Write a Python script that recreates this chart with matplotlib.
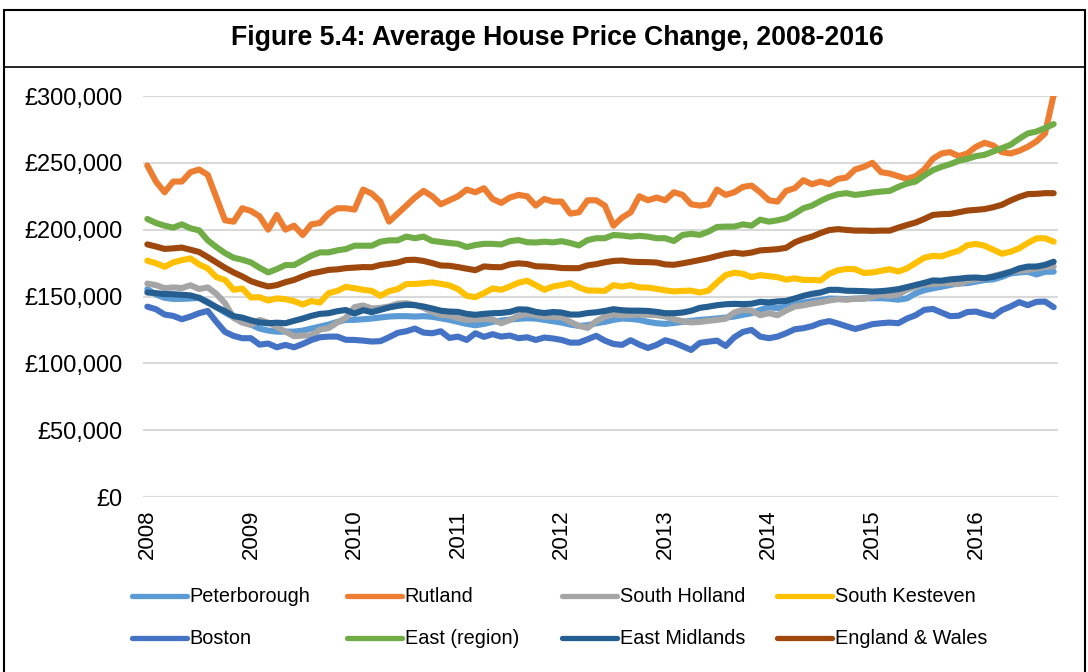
import numpy as np
import matplotlib.pyplot as plt
from matplotlib.lines import Line2D
from matplotlib.patches import Rectangle
from matplotlib.ticker import FuncFormatter

plt.rcParams['font.family'] = ['Liberation Sans', 'DejaVu Sans']

# monthly average prices, Jan 2008 - Oct 2016 (GBP thousands)
peterborough = [155.5, 151.5, 149, 148.2, 148.2, 148.5, 149, 146, 142, 138, 134.5, 132,
                129, 126, 124.5, 123.7, 123.7, 123.7, 124.5, 126, 127.5, 129, 131, 132.5,
                132.5, 133, 133.5, 134.3, 135, 135.3, 135.3, 135, 135.3, 134.8, 133.7, 132.5,
                131, 129.5, 128.5, 129.5, 131, 132, 132.8, 133.3, 133.7, 133.5, 132.5, 131.5,
                130.5, 129, 128, 128.5, 130, 131, 132.5, 133.5, 133.2, 132.5, 131, 130,
                129.5, 130.2, 131, 131.8, 132.5, 133, 133.6, 134.2, 135, 136.3, 137.5, 140,
                142, 141.3, 142.5, 143.8, 145.5, 146.5, 147.3, 148.5, 148.3, 148.1, 148.4, 148.7,
                148.7, 148.7, 148.3, 147.6, 148.6, 152.3, 154.7, 156.1, 157.3, 158.6, 159.8, 160,
                161.1, 162.3, 162.8, 164.7, 167.2, 168, 168.5, 166.5, 168.5, 168.6]
rutland = [248, 236, 228, 236, 236, 243, 245, 241, 224, 207, 206, 216,
           214, 210, 200, 211, 200, 203, 196, 204, 205, 212, 216, 216,
           215, 230, 227, 221, 206, 212, 218, 224, 229, 225, 219, 222,
           225, 230, 228, 231, 223, 220, 224, 226, 225, 218, 223, 221,
           221, 212, 213, 222, 222, 218, 203, 209, 213, 225, 222, 224,
           222, 228, 226, 219, 218, 219, 230, 226, 228, 232, 233, 228,
           222, 221, 229, 231, 237, 234, 236, 234, 238, 239, 245, 247,
           250, 243, 242, 240, 238, 240, 245, 253, 257, 258, 255, 257,
           262, 265, 263, 258, 257, 259, 262, 266, 272, 301]
south_holland = [159.7, 158.5, 156.2, 156.8, 156.3, 158.4, 155.6, 156.8, 152, 145, 134, 130.5,
                 128.7, 132.5, 130.5, 127.3, 123.7, 120.3, 120.8, 120.8, 125.2, 126.3, 130.5, 134,
                 142, 143.3, 141, 141.5, 142.5, 144.6, 145, 143.7, 141.5, 138.5, 136.3, 135.8,
                 133.8, 132.5, 132.8, 133.2, 132.8, 130, 132.4, 135.6, 137, 136, 135, 134.8,
                 134.5, 131, 128, 126.5, 131.5, 135, 136.5, 136, 136.2, 136.5, 136.3, 136,
                 135, 133, 131.5, 130.6, 131, 131.8, 132.5, 133.4, 138, 140, 139.5, 136,
                 137.5, 136, 139.5, 142.5, 143.4, 144.7, 145.7, 147, 148, 147.5, 148.4, 148.2,
                 149.8, 151.2, 150.5, 151.5, 155, 157.3, 159.2, 159.2, 160, 160, 159.2, 161.8,
                 162.8, 163.5, 165.3, 167, 168.5, 169.3, 169.9, 171, 172, 172.5]
south_kesteven = [176.8, 174.9, 172.2, 175.5, 177.2, 178.5, 174, 171, 164.5, 162.4, 155, 156,
                  149.3, 149.5, 147, 148.6, 148, 146.5, 144, 146.6, 145.5, 152.5, 154.2, 157.2,
                  156.2, 155, 154.2, 150.5, 154, 155.5, 159.3, 159.4, 159.9, 160.5, 159.5, 158.3,
                  155.5, 150.5, 149.5, 152.5, 156, 155, 157.5, 160.3, 161.8, 158.5, 155, 157.5,
                  158.6, 160, 156.8, 154.5, 154.4, 154.2, 158.5, 157.4, 158.5, 156.8, 156.7, 155.7,
                  154.6, 153.8, 154.2, 154.4, 153, 154.4, 160.5, 166, 167.8, 167, 164.5, 166,
                  165.2, 164.5, 162.6, 163.6, 162.4, 162.4, 162, 167, 169.6, 170.6, 170.4, 167.6,
                  168, 169.2, 170.4, 168.7, 171, 175, 179, 180.4, 180, 182.3, 184.2, 188.4,
                  189.3, 188, 185, 182, 183.5, 186, 190, 193.5, 193.6, 191]
boston = [142.4, 140.5, 136.5, 135.5, 133, 135, 137.5, 139.2, 131, 123.5, 120.5, 118.8,
          118.8, 114, 114.8, 112, 113.8, 112, 114.5, 117.4, 119.5, 120, 120, 117.6,
          117.5, 117, 116.3, 116.6, 119.5, 122.8, 124, 126, 123, 122.5, 124, 119,
          120, 117.5, 122.5, 119.8, 121.8, 120, 120.8, 118.8, 119.5, 117.5, 119.3, 118.6,
          117.5, 115.5, 115.5, 118, 120.6, 117, 114.5, 113.8, 117.3, 114, 111.5, 113.8,
          117.3, 115.5, 112.8, 110, 115.3, 116.2, 117, 113, 119.5, 123.5, 125, 120,
          118.8, 120, 122.5, 125.5, 126.3, 127.8, 130.3, 131.6, 129.8, 127.7, 125.7, 127.4,
          129.3, 130, 130.5, 130, 133.5, 136, 140, 140.7, 138, 135.3, 135.6, 138.4,
          138.7, 136.8, 135.2, 139.8, 142.5, 145.8, 143.5, 146, 146.2, 142]
east_region = [208, 205, 203, 201.5, 204, 201, 199.5, 192, 187, 182.5, 179, 177.5,
               175.5, 171.5, 168, 170.5, 173.5, 173.5, 177, 180.5, 183, 183, 184.5, 185.5,
               188, 188, 188, 191, 192, 192, 194.8, 193.6, 194.8, 191.6, 190.8, 190,
               189.4, 187, 188.5, 189.4, 189.4, 188.9, 191.4, 192.2, 190.6, 190.4, 191, 190.5,
               191.4, 190, 188.2, 192.2, 193.6, 193.6, 196, 195.6, 194.8, 195.4, 194.8, 193.6,
               193.6, 191.5, 196, 196.9, 196.1, 198.5, 202, 202.3, 202.3, 204, 203, 207.5,
               206, 207, 208.5, 212, 216, 218, 221.5, 224.5, 226.5, 227.3, 226, 226.8,
               227.8, 228.5, 229, 232, 234.5, 236, 240.5, 244.5, 247, 249, 251.5, 253,
               255, 256, 258.5, 261, 263.5, 268, 272, 273.4, 276, 279]
east_midlands = [153, 152.5, 151.8, 151.7, 151.3, 150.8, 149, 145.5, 142, 139, 135.3, 134.2,
                 132.2, 130.6, 130, 130.4, 130, 131.8, 133.5, 135.5, 137, 137.5, 139, 139.9,
                 137.2, 139.8, 138.3, 140, 141.8, 143, 143.8, 143.5, 142.5, 141, 139.4, 138.7,
                 138.5, 137, 136.3, 137, 137.5, 137.7, 138.5, 140.4, 140.2, 138.5, 137.6, 138.4,
                 138, 136.5, 136.5, 137.6, 138.2, 139.2, 140.5, 139.7, 139.4, 139.4, 139.2, 138.5,
                 137.5, 137.5, 138, 139.3, 141.5, 142.4, 143.5, 144.2, 144.5, 144.3, 144.6, 146,
                 145.6, 146.3, 146.7, 148.5, 150.5, 152, 153, 155, 155, 154.3, 154.2, 154,
                 153.7, 154, 154.6, 155.5, 157, 158.6, 160.2, 162, 161.8, 162.8, 163.3, 164,
                 164.2, 163.7, 164.7, 166.4, 168.4, 171, 172.4, 172.4, 173.7, 176]
england_wales = [189, 187.4, 185.6, 186, 186.6, 185, 183.3, 179.5, 175.5, 171.5, 168, 165,
                 161.5, 159.3, 157.5, 158.5, 160.7, 162.4, 165, 167.3, 168.5, 169.9, 170.3, 171.2,
                 171.6, 172, 171.9, 173.6, 174.4, 175.4, 177.3, 177.5, 176.6, 175, 173.2, 173,
                 172, 170.8, 169.7, 172.5, 172, 171.9, 174, 174.8, 174.3, 172.6, 172.4, 172,
                 171.3, 171.2, 171.2, 173.3, 174.2, 175.6, 176.6, 176.9, 176.1, 175.8, 175.7, 175.4,
                 174, 173.7, 174.8, 176, 177.3, 178.6, 180.3, 181.8, 182.8, 182, 182.9, 184.5,
                 184.9, 185.4, 186.4, 190.5, 193, 194.8, 197.5, 199.7, 200.4, 199.8, 199.3, 199.3,
                 199.1, 199.3, 199.3, 201.5, 203.5, 205.3, 208, 211, 211.6, 211.8, 213, 214.3,
                 214.8, 215.4, 216.8, 218.6, 221.8, 224.5, 226.6, 226.8, 227.3, 227.3]

names = ['Peterborough', 'Rutland', 'South Holland', 'South Kesteven',
         'Boston', 'East (region)', 'East Midlands', 'England & Wales']
colors = ['#5B9BD5', '#ED7D31', '#A5A5A5', '#FFC000',
          '#4472C4', '#70AD47', '#255E91', '#9E480E']
series = [peterborough, rutland, south_holland, south_kesteven,
          boston, east_region, east_midlands, england_wales]
years = [str(y) for y in range(2008, 2017)]

W, H = 1088, 672
fig = plt.figure(figsize=(W / 100, H / 100), dpi=100)
ax = fig.add_axes([143 / W, 1 - 497 / H, (1058 - 143) / W, (497 - 96) / H])

months = np.arange(len(peterborough))
for vals, c in zip(series, colors):
    ax.plot(months, np.array(vals) * 1000, color=c, lw=4.4,
            solid_joinstyle='round', solid_capstyle='round')

ax.set_xlim(-0.5, len(months) - 0.5)
ax.set_ylim(0, 300000)
ax.set_yticks(range(0, 300001, 50000))
ax.yaxis.set_major_formatter(FuncFormatter(lambda v, p: '£{:,.0f}'.format(v)))
ax.set_xticks(np.arange(0, len(months), 12))
ax.set_xticklabels(years, rotation=90)
ax.tick_params(length=0, labelsize=17)
ax.tick_params(axis='y', pad=15)
ax.tick_params(axis='x', pad=9, labelsize=16)
ax.grid(axis='y', color='#D9D9D9', lw=1.5)
ax.set_axisbelow(True)
for s in ax.spines.values():
    s.set_visible(False)

# legend, laid out by hand in 4 even columns
for k, (name, c) in enumerate(zip(names, colors)):
    x0 = (131.7 + 215 * (k % 4)) / W
    y0 = 1 - (596 + 42 * (k // 4)) / H
    fig.add_artist(Line2D([x0, x0 + 55 / W], [y0, y0], color=c, lw=3.8,
                          solid_capstyle='round'))
    fig.text(x0 + 58 / W, y0, name, fontsize=14.3, va='center', ha='left')

# frame and title box
fig.add_artist(Rectangle((4 / W, -0.1), 1081 / W, 1.1 - 10 / H, fill=False,
                         ec='black', lw=1.5, transform=fig.transFigure))
fig.add_artist(Line2D([4 / W, 1085 / W], [1 - 67 / H] * 2, color='black', lw=1.2))
fig.text(557 / W, 1 - 38 / H, 'Figure 5.4: Average House Price Change, 2008-2016',
         fontsize=19.2, fontweight='bold', ha='center', va='center')

fig.savefig('out.png', dpi=100)
